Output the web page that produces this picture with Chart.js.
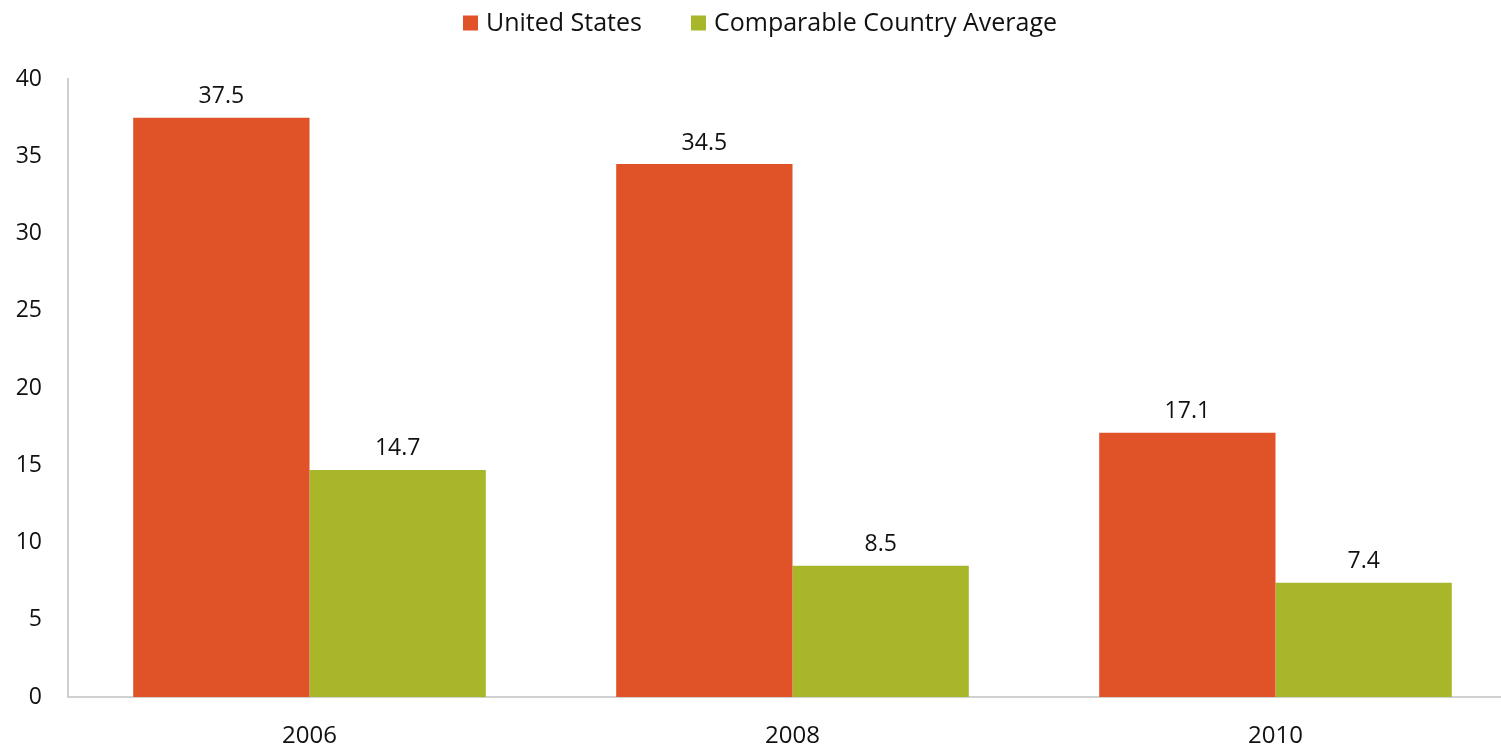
<!DOCTYPE html>
<html>
<head>
<meta charset="utf-8">
<script src="https://cdn.jsdelivr.net/npm/chart.js@4/dist/chart.umd.min.js"></script>
<style>
  html, body { margin: 0; padding: 0; background: #fff; overflow: hidden; }
  #wrap { width: 1517px; height: 748px; }
</style>
</head>
<body>
<div id="wrap"><canvas id="c" width="1517" height="748"></canvas></div>
<script>
const years = ['2006', '2008', '2010'];
const unitedStates = [37.5, 34.5, 17.1];
const comparableAverage = [14.7, 8.5, 7.4];
const yTicks = [0, 5, 10, 15, 20, 25, 30, 35, 40];

const FONT = '"Open Sans", "Noto Sans", sans-serif';

// Writes each bar's value just above its top edge
const valueLabels = {
  id: 'valueLabels',
  afterDatasetsDraw(chart) {
    const ctx = chart.ctx;
    ctx.save();
    ctx.font = '23px ' + FONT;
    ctx.fillStyle = '#111';
    ctx.textAlign = 'center';
    ctx.textBaseline = 'middle';
    chart.data.datasets.forEach((ds, i) => {
      chart.getDatasetMeta(i).data.forEach((bar, j) => {
        ctx.fillText(ds.data[j].toFixed(1), bar.x, bar.y - 21);
      });
    });
    ctx.restore();
  }
};

// Single-row legend across the top: colour square followed by series name
const topLegend = {
  id: 'topLegend',
  afterDraw(chart) {
    const ctx = chart.ctx;
    const box = 15, gapText = 8, gapItem = 49, centerX = 760, centerY = 23;
    ctx.save();
    ctx.font = '25px ' + FONT;
    ctx.textBaseline = 'middle';
    const items = chart.data.datasets.map(ds => ({
      text: ds.label, color: ds.backgroundColor, w: ctx.measureText(ds.label).width
    }));
    const total = items.reduce((s, it) => s + box + gapText + it.w, 0) + gapItem * (items.length - 1);
    let x = centerX - total / 2;
    items.forEach(it => {
      ctx.fillStyle = it.color;
      ctx.fillRect(x, centerY - box / 2, box, box);
      x += box + gapText;
      ctx.fillStyle = '#111';
      ctx.fillText(it.text, x, centerY + 1);
      x += it.w + gapItem;
    });
    ctx.restore();
  }
};

new Chart(document.getElementById('c'), {
  type: 'bar',
  data: {
    labels: years,
    datasets: [
      { label: 'United States', data: unitedStates, backgroundColor: '#E05328' },
      { label: 'Comparable Country Average', data: comparableAverage, backgroundColor: '#A8B729' }
    ]
  },
  options: {
    responsive: false,
    animation: false,
    layout: { padding: { top: 79, right: 0, bottom: 0, left: 0 } },
    datasets: { bar: { categoryPercentage: 0.73, barPercentage: 1.0 } },
    plugins: {
      legend: { display: false },
      tooltip: { enabled: false }
    },
    scales: {
      x: {
        grid: { display: false, drawTicks: false },
        border: { display: true, color: '#D0D0D0', width: 2 },
        ticks: { font: { family: FONT, size: 24 }, color: '#111', padding: 25 },
        afterFit(scale) { scale.height = 51; }
      },
      y: {
        min: 0,
        max: 40,
        afterBuildTicks(scale) { scale.ticks = yTicks.map(v => ({ value: v })); },
        grid: { display: false, drawTicks: false },
        border: { display: true, color: '#D0D0D0', width: 2 },
        ticks: { font: { family: FONT, size: 23 }, color: '#111', padding: 26 },
        afterFit(scale) { scale.width = 68; }
      }
    }
  },
  plugins: [valueLabels, topLegend]
});
</script>
</body>
</html>
